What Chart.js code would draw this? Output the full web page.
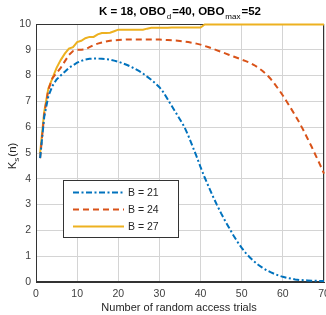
<!DOCTYPE html>
<html>
<head>
<meta charset="utf-8">
<script src="https://cdn.jsdelivr.net/npm/chart.js@4"></script>
<style>
	html, body { margin: 0; padding: 0; background: #fff; }
	#wrap { width: 326px; height: 315px; }
</style>
</head>
<body>
<div id="wrap"><canvas id="myChart" width="326" height="315"></canvas></div>
<script>
const trials = [1, 2, 3, 4, 5, 6, 7, 8, 9, 10, 11, 12, 13, 14, 15, 16, 17, 18, 19, 20,
	21, 22, 23, 24, 25, 26, 27, 28, 29, 30, 31, 32, 33, 34, 35, 36, 37, 38, 39, 40,
	41, 42, 43, 44, 45, 46, 47, 48, 49, 50, 51, 52, 53, 54, 55, 56, 57, 58, 59, 60,
	61, 62, 63, 64, 65, 66, 67, 68, 69, 70]

const ksB21 = [4.8, 6.4, 7.2, 7.6, 7.85, 8.0, 8.15, 8.3, 8.4, 8.5,
	8.57, 8.62, 8.65, 8.66, 8.66, 8.65, 8.64, 8.62, 8.58, 8.54,
	8.48, 8.42, 8.35, 8.27, 8.18, 8.08, 7.96, 7.84, 7.7, 7.55,
	7.35, 7.08, 6.82, 6.56, 6.3, 6.03, 5.68, 5.28, 4.88, 4.45,
	4.05, 3.68, 3.32, 2.98, 2.66, 2.36, 2.08, 1.8, 1.55, 1.32,
	1.12, 0.95, 0.8, 0.67, 0.56, 0.46, 0.38, 0.31, 0.25, 0.2,
	0.16, 0.13, 0.1, 0.08, 0.07, 0.06, 0.05, 0.05, 0.04, 0.04]

const ksB24 = [4.8, 6.5, 7.45, 7.9, 8.1, 8.3, 8.55, 8.8, 8.95, 9.0,
	9.0, 9.02, 9.1, 9.18, 9.24, 9.28, 9.32, 9.35, 9.37, 9.38,
	9.39, 9.4, 9.4, 9.4, 9.4, 9.4, 9.4, 9.4, 9.4, 9.4,
	9.39, 9.38, 9.37, 9.36, 9.34, 9.32, 9.3, 9.27, 9.24, 9.2,
	9.15, 9.1, 9.04, 8.98, 8.92, 8.86, 8.8, 8.74, 8.68, 8.62,
	8.56, 8.5, 8.41, 8.31, 8.19, 8.05, 7.88, 7.68, 7.46, 7.23,
	6.98, 6.72, 6.46, 6.18, 5.88, 5.56, 5.24, 4.9, 4.56, 4.2]

const ksB27 = [5.0, 6.6, 7.5, 7.9, 8.3, 8.6, 8.85, 9.05, 9.1, 9.3,
	9.35, 9.45, 9.5, 9.5, 9.6, 9.65, 9.65, 9.66, 9.72, 9.78,
	9.78, 9.78, 9.78, 9.78, 9.78, 9.78, 9.82, 9.85, 9.85, 9.85,
	9.85, 9.85, 9.86, 9.86, 9.86, 9.86, 9.86, 9.86, 9.86, 9.86,
	9.98, 9.98, 9.98, 9.98, 9.98, 9.98, 9.98, 9.98, 9.98, 9.98,
	9.98, 9.98, 9.98, 9.98, 9.98, 9.98, 9.98, 9.98, 9.98, 9.98,
	9.98, 9.98, 9.98, 9.98, 9.98, 9.98, 9.98, 9.98, 9.98, 9.98]

const seriesNames = ['B = 21', 'B = 24', 'B = 27']
const xTicks = [0, 10, 20, 30, 40, 50, 60, 70]
const yTicks = [0, 1, 2, 3, 4, 5, 6, 7, 8, 9, 10]

const FONT = '"Liberation Sans", Arial, sans-serif'

// title, axis titles (with subscripts), frame and the boxed legend
const decorPlugin = {
	id: 'decor',
	beforeDatasetsDraw(chart) {
		const ctx = chart.ctx
		const area = chart.chartArea
		ctx.save()
		// frame
		ctx.strokeStyle = '#333'
		ctx.lineWidth = 1
		ctx.strokeRect(area.left + 0.5, area.top + 0.5, area.right - area.left - 1, area.bottom - area.top - 1)
		ctx.restore()
	},
	afterDraw(chart) {
		const ctx = chart.ctx
		ctx.save()

		// title with subscripts
		const parts = [
			['K = 18, OBO', false], ['d', true], ['=40, OBO', false], ['max', true], ['=52', false],
		]
		const big = 'bold 11.5px ' + FONT
		const small = '8px ' + FONT
		let total = 0
		parts.forEach(p => {
			ctx.font = p[1] ? small : big
			total += ctx.measureText(p[0]).width + (p[1] ? 2 : 0)
		})
		let tx = 180 - total / 2
		ctx.fillStyle = '#000'
		ctx.textBaseline = 'alphabetic'
		ctx.textAlign = 'left'
		parts.forEach(p => {
			if (p[1]) {
				ctx.font = small
				ctx.fillText(p[0], tx + 1, 19)
				tx += ctx.measureText(p[0]).width + 2
			} else {
				ctx.font = big
				ctx.fillText(p[0], tx, 15)
				tx += ctx.measureText(p[0]).width
			}
		})

		// x title
		ctx.font = '11px ' + FONT
		ctx.fillStyle = '#262626'
		ctx.textAlign = 'center'
		ctx.fillText('Number of random access trials', 179, 311)

		// y title: K_s(n), rotated
		ctx.save()
		ctx.translate(16, 156)
		ctx.rotate(-Math.PI / 2)
		ctx.textAlign = 'left'
		ctx.font = '11.5px ' + FONT
		const wK = ctx.measureText('K').width
		ctx.font = '8px ' + FONT
		const wS = ctx.measureText('s').width
		ctx.font = '11.5px ' + FONT
		const wN = ctx.measureText('(n)').width
		let yx = -(wK + wS + wN + 1) / 2
		ctx.fillText('K', yx, 0)
		yx += wK
		ctx.font = '8px ' + FONT
		ctx.fillText('s', yx, 3)
		yx += wS + 1
		ctx.font = '11.5px ' + FONT
		ctx.fillText('(n)', yx, 0)
		ctx.restore()

		// legend box
		const lx = 63, ly = 180, lw = 115, lh = 57
		ctx.fillStyle = '#fff'
		ctx.fillRect(lx, ly, lw, lh)
		ctx.strokeStyle = '#333'
		ctx.lineWidth = 1
		ctx.strokeRect(lx + 0.5, ly + 0.5, lw, lh)
		chart.data.datasets.forEach((ds, i) => {
			const yy = 192.5 + i * 17
			ctx.beginPath()
			ctx.setLineDash(ds.borderDash || [])
			ctx.strokeStyle = ds.borderColor
			ctx.lineWidth = ds.borderWidth
			ctx.moveTo(73, yy)
			ctx.lineTo(124, yy)
			ctx.stroke()
			ctx.setLineDash([])
			ctx.fillStyle = '#262626'
			ctx.font = '10.5px ' + FONT
			ctx.textAlign = 'left'
			ctx.textBaseline = 'middle'
			ctx.fillText(ds.label, 128, yy + 0.5)
		})
		ctx.restore()
	},
}

const ctx = document.getElementById('myChart')
const chart = new Chart(ctx, {
	type: 'line',
	data: {
		labels: trials,
		datasets: [
			{
				label: seriesNames[0],
				data: ksB21,
				borderColor: '#0072BD',
				borderWidth: 2,
				borderDash: [6, 2.5, 2, 2.5],
			},
			{
				label: seriesNames[1],
				data: ksB24,
				borderColor: '#D95319',
				borderWidth: 2,
				borderDash: [6, 4],
			},
			{
				label: seriesNames[2],
				data: ksB27,
				borderColor: '#EDB120',
				borderWidth: 2,
			},
		],
	},
	options: {
		responsive: false,
		animation: false,
		layout: { padding: { top: 24, right: 2, left: 0, bottom: 0 } },
		elements: {
			point: { radius: 0 },
			line: { tension: 0, fill: false },
		},
		datasets: {
			line: { clip: 4 },
		},
		plugins: {
			legend: { display: false },
			tooltip: { enabled: false },
		},
		scales: {
			x: {
				type: 'linear',
				min: 0,
				max: 70,
				afterFit(scale) {
					scale.height = 33
					scale.paddingLeft = 0
					scale.paddingRight = 0
				},
				afterBuildTicks(scale) { scale.ticks = xTicks.map(v => ({ value: v })) },
				grid: { color: '#d4d4d4', drawTicks: false },
				border: { color: '#333' },
				ticks: { color: '#404040', font: { family: FONT, size: 10.5 }, padding: 6, maxRotation: 0 },
			},
			y: {
				min: 0,
				max: 10,
				afterFit(scale) {
					scale.width = 36
					scale.paddingTop = 0
					scale.paddingBottom = 0
				},
				afterBuildTicks(scale) { scale.ticks = yTicks.map(v => ({ value: v })) },
				grid: { color: '#d4d4d4', drawTicks: false },
				border: { color: '#333' },
				ticks: { color: '#404040', font: { family: FONT, size: 10.5 }, padding: 5 },
			},
		},
	},
	plugins: [decorPlugin],
})
</script>
</body>
</html>
